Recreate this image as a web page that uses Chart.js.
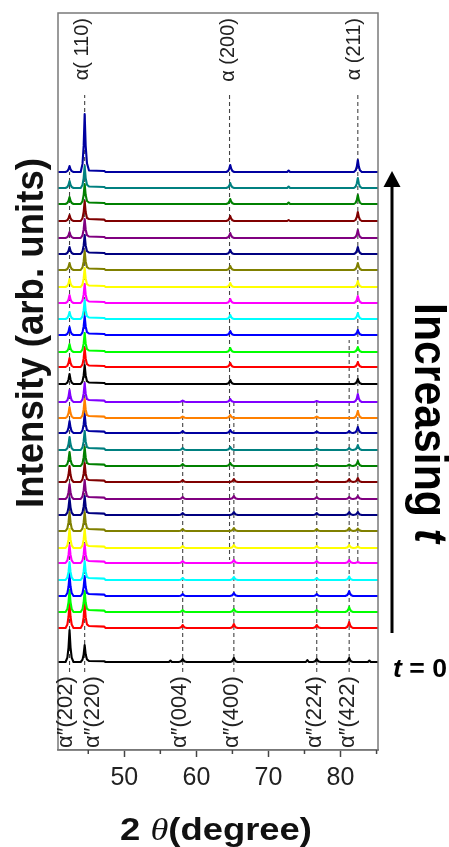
<!DOCTYPE html>
<html lang="en">
<head>
<meta charset="UTF-8">
<title>XRD patterns vs time</title>
<script src="https://cdn.jsdelivr.net/npm/chart.js"></script>
<style>
  html, body { margin: 0; padding: 0; background: #fff; }
  #wrap { position: relative; width: 449px; height: 847px; }
</style>
</head>
<body>
<div id="wrap"><canvas id="xrd"></canvas></div>
<script>
// x axis (2 theta)
const xMin = 40.8, xMax = 85.2;
const tickValues = [45, 50, 55, 60, 65, 70, 75, 80, 85];
const tickLabels = [50, 60, 70, 80];

// vertical offset of every pattern, bottom (t = 0) first
const offsets = [88, 122, 138, 154, 170, 187, 202, 219, 235, 251, 268, 284, 300, 317, 332,
                 348, 366, 383, 398, 415, 431, 447, 463, 480, 496, 512, 529, 546, 562, 578];

// peak positions
const pos202 = 42.4, pos110 = 44.5, pos004 = 58.1, pos400 = 65.2, pos200 = 64.7,
      pos224 = 76.7, pos422 = 81.2, pos211 = 82.4;

// peak heights per pattern (same order as offsets)
const h202 = [32, 25, 22, 21, 18, 18, 19, 19, 17, 15, 16, 14, 13, 12, 11, 12, 10, 9, 8, 8, 7, 8, 8, 7, 7, 6, 6, 7, 7, 6];
const h110 = [17, 24, 21, 20, 19, 19, 19, 19, 19, 19, 19, 19, 19, 19, 19, 19, 19, 19, 19, 19, 19, 19, 19, 19, 19, 19, 20, 20, 22, 58];
const h004 = [3, 3, 2, 2, 2, 2, 2, 2, 2, 2, 2, 2, 2, 2, 1.5, 1.5, 0, 0, 0, 0, 0, 0, 0, 0, 0, 0, 0, 0, 0, 0];
const h400 = [4, 4, 3, 3, 3, 3, 3, 3, 3, 3, 3, 0, 0, 0, 0, 0, 0, 0, 0, 0, 0, 0, 0, 0, 0, 0, 0, 0, 0, 0];
const h200 = [0, 0, 0, 0, 0, 0, 0, 0, 0, 0, 0, 3, 3, 3, 3, 3, 4, 4, 4, 4, 4, 4, 4, 4, 4, 5, 5, 5, 5, 7];
const h224 = [3, 3, 2, 2, 2, 2, 2, 2, 2, 2, 2, 2, 1.5, 1.5, 1.5, 1, 0, 0, 0, 0, 0, 0, 0, 0, 0, 0, 0, 0, 0, 0];
const h422 = [4, 6, 5, 5, 3.5, 3, 3, 3, 3, 2, 3, 1.5, 2, 2, 0, 0, 0, 0, 0, 0, 0, 0, 0, 0, 0, 0, 0, 0, 0, 0];
const h211 = [0, 0, 0, 0, 0, 1, 1.5, 2.5, 3, 3, 4, 5, 5, 6, 7, 8, 5, 5, 5, 5, 6, 7, 6, 7, 7, 8, 9, 9, 10, 12];
const hump = [1, 2, 2, 2, 2, 2, 2, 2, 2, 2, 2, 2, 2, 2, 2, 2, 1.5, 1.5, 1.5, 1.5, 1.5, 1.5, 1.5, 1.5, 1.5, 1.5, 2, 1.5, 1.5, 1.5];
// small extra bumps: [pattern, 2theta, height]
const bumps = [[0, 56.4, 1.5], [0, 75.4, 2], [0, 84.0, 1.5], [26, 72.8, 1], [27, 72.8, 1.5], [28, 72.8, 1.5], [29, 72.8, 1.5]];

// Origin style colour cycle
const colors = ['#000000', '#ff0000', '#00ff00', '#0000ff', '#00ffff', '#ff00ff', '#ffff00', '#808000',
                '#000080', '#800080', '#800000', '#008000', '#008080', '#0000a0', '#ff8000', '#8000ff'];

// dashed guide lines: [2theta, from, to]
const guides = [[42.4, 78, 578], [44.5, 78, 655], [58.1, 78, 350], [65.2, 78, 350], [64.6, 655, 190],
                [76.7, 78, 348], [81.2, 78, 410], [82.4, 655, 187]];

const topLabels = ['\u03b1( 110)', '\u03b1 (200)', '\u03b1 (211)'];
const topLabelX = [44.2, 64.5, 81.9];
const bottomLabels = ['\u03b1\u2033(202)', '\u03b1\u2033(220)', '\u03b1\u2033(004)', '\u03b1\u2033(400)', '\u03b1\u2033(224)', '\u03b1\u2033(422)'];
const bottomLabelX = [41.9, 45.7, 57.7, 64.9, 76.5, 81.0];

const peakShape = [[-0.55, 0], [-0.3, 0.14], [-0.14, 0.45], [0, 1], [0.14, 0.45], [0.3, 0.14], [0.55, 0]];

function tracePoints(i) {
  const b = offsets[i];
  const pts = [{x: xMin, y: b}, {x: xMax, y: b}];
  const peaks = [[pos202, h202[i]], [pos004, h004[i]], [pos400, h400[i]], [pos200, h200[i]],
                 [pos224, h224[i]], [pos422, h422[i]], [pos211, h211[i]]];
  peaks.forEach(([p, h]) => {
    if (h > 0) peakShape.forEach(([dx, f]) => pts.push({x: p + dx, y: b + f * h}));
  });
  // 110/220 peak runs into a low shoulder up to ~47
  peakShape.slice(0, 5).forEach(([dx, f]) => pts.push({x: pos110 + dx, y: b + f * h110[i]}));
  pts.push({x: pos110 + 0.32, y: b + Math.max(0.15 * h110[i], hump[i])});
  pts.push({x: 45.1, y: b + hump[i]}, {x: 47.2, y: b + hump[i] * 0.7}, {x: 47.4, y: b});
  bumps.filter(d => d[0] === i).forEach(d => {
    pts.push({x: d[1] - 0.2, y: b}, {x: d[1], y: b + d[2]}, {x: d[1] + 0.2, y: b});
  });
  pts.sort((a, c) => a.x - c.x);
  return pts;
}

const datasets = [];
for (let i = offsets.length - 1; i >= 0; i--) {
  datasets.push({
    data: tracePoints(i),
    borderColor: colors[i % colors.length],
    borderWidth: 2.1,
    borderJoinStyle: 'round',
    pointRadius: 0,
    fill: false,
    tension: 0,
    order: 1
  });
}
guides.forEach(g => {
  datasets.push({
    data: [{x: g[0], y: g[1]}, {x: g[0], y: g[2]}],
    borderColor: '#444',
    borderWidth: 1.1,
    borderDash: [4, 3],
    pointRadius: 0,
    fill: false,
    order: 2
  });
});

function fitScale(w, target) { return target / w; }

const decor = {
  id: 'decor',
  afterDraw(chart) {
    const ctx = chart.ctx;
    const a = chart.chartArea;
    const xs = chart.scales.x;
    ctx.save();

    // frame
    ctx.strokeStyle = '#7a7a7a';
    ctx.lineWidth = 1.5;
    ctx.strokeRect(a.left, a.top, a.right - a.left, a.bottom - a.top);

    // minor ticks
    ctx.strokeStyle = '#444';
    ctx.lineWidth = 1.5;
    tickValues.filter(v => !tickLabels.includes(v)).forEach(v => {
      const px = xs.getPixelForValue(v);
      ctx.beginPath(); ctx.moveTo(px, a.bottom); ctx.lineTo(px, a.bottom + 4); ctx.stroke();
    });

    // peak labels
    ctx.fillStyle = '#222';
    ctx.textBaseline = 'middle';
    ctx.font = "20px 'Liberation Sans', Arial, sans-serif";
    topLabels.forEach((t, k) => {
      ctx.save();
      ctx.translate(xs.getPixelForValue(topLabelX[k]), a.top + 5);
      ctx.rotate(-Math.PI / 2);
      ctx.textAlign = 'right';
      ctx.fillText(t, 0, 0);
      ctx.restore();
    });
    ctx.font = "22px 'Liberation Sans', Arial, sans-serif";
    bottomLabels.forEach((t, k) => {
      ctx.save();
      ctx.translate(xs.getPixelForValue(bottomLabelX[k]), a.bottom - 2);
      ctx.rotate(-Math.PI / 2);
      ctx.textAlign = 'left';
      ctx.fillText(t, 0, 0);
      ctx.restore();
    });

    ctx.fillStyle = '#111';
    ctx.textBaseline = 'alphabetic';
    ctx.textAlign = 'left';

    // x title: 2 θ(degree)
    const fB = "bold 32px 'Liberation Sans', Arial, sans-serif";
    const fT = "italic 32px 'Liberation Serif', serif";
    ctx.font = fB; const w1 = ctx.measureText('2 ').width, w3 = ctx.measureText('(degree)').width;
    ctx.font = fT; const w2 = ctx.measureText('\u03b8').width;
    const sx = fitScale(w1 + w2 + w3, 192);
    ctx.save();
    ctx.translate(216 - 96, 840);
    ctx.scale(sx, 1);
    ctx.font = fB; ctx.fillText('2 ', 0, 0);
    ctx.font = fT; ctx.fillText('\u03b8', w1, 0);
    ctx.font = fB; ctx.fillText('(degree)', w1 + w2, 0);
    ctx.restore();

    // y title
    ctx.save();
    ctx.font = "bold 38px 'Liberation Sans', Arial, sans-serif";
    const wy = ctx.measureText('Intensity (arb. units)').width;
    ctx.translate(43, 333);
    ctx.rotate(-Math.PI / 2);
    ctx.scale(fitScale(wy, 350), 1);
    ctx.textAlign = 'center';
    ctx.fillText('Intensity (arb. units)', 0, 0);
    ctx.restore();

    // arrow
    ctx.strokeStyle = '#000';
    ctx.fillStyle = '#000';
    ctx.lineWidth = 3;
    ctx.beginPath(); ctx.moveTo(392, 633); ctx.lineTo(392, 184); ctx.stroke();
    ctx.beginPath(); ctx.moveTo(392, 171); ctx.lineTo(383.5, 187); ctx.lineTo(400.5, 187); ctx.closePath(); ctx.fill();

    // Increasing t
    ctx.save();
    const fI = "bold 46px 'Liberation Sans', Arial, sans-serif";
    const fIt = "bold italic 46px 'Liberation Sans', Arial, sans-serif";
    ctx.font = fI; const wi1 = ctx.measureText('Increasing ').width;
    ctx.font = fIt; const wi2 = ctx.measureText('t').width;
    ctx.translate(415, 303);
    ctx.rotate(Math.PI / 2);
    ctx.scale(fitScale(wi1 + wi2, 240), 1);
    ctx.font = fI; ctx.fillText('Increasing ', 0, 0);
    ctx.font = fIt; ctx.fillText('t', wi1, 0);
    ctx.restore();

    // t = 0
    ctx.save();
    const f0 = "bold 25px 'Liberation Sans', Arial, sans-serif";
    const f0t = "bold italic 25px 'Liberation Sans', Arial, sans-serif";
    ctx.font = f0t; const wt = ctx.measureText('t').width;
    ctx.font = f0; const wr = ctx.measureText(' = 0').width;
    ctx.translate(393, 677);
    ctx.scale(fitScale(wt + wr, 54), 1);
    ctx.font = f0t; ctx.fillText('t', 0, 0);
    ctx.font = f0; ctx.fillText(' = 0', wt, 0);
    ctx.restore();

    ctx.restore();
  }
};

new Chart(document.getElementById('xrd'), {
  type: 'line',
  data: { datasets: datasets },
  options: {
    responsive: true,
    maintainAspectRatio: false,
    animation: false,
    layout: { padding: { left: 58, right: 71, top: 13, bottom: 0 } },
    plugins: { legend: { display: false }, tooltip: { enabled: false } },
    scales: {
      x: {
        type: 'linear',
        min: xMin,
        max: xMax,
        afterBuildTicks: s => { s.ticks = tickValues.map(v => ({value: v})); },
        afterFit: s => { s.height = 97; },
        ticks: {
          callback: v => tickLabels.includes(v) ? String(v) : '',
          font: { family: "'Liberation Sans', Arial, sans-serif", size: 25 },
          color: '#222',
          padding: 6,
          maxRotation: 0,
          autoSkip: false
        },
        grid: {
          drawOnChartArea: false,
          drawTicks: true,
          tickLength: 7,
          tickWidth: 1.5,
          tickColor: c => tickLabels.includes(c.tick.value) ? '#444' : 'rgba(0,0,0,0)'
        },
        border: { display: true, color: '#707070', width: 1.5 }
      },
      y: { display: false, min: 0, max: 737 }
    }
  },
  plugins: [decor]
});
</script>
</body>
</html>
